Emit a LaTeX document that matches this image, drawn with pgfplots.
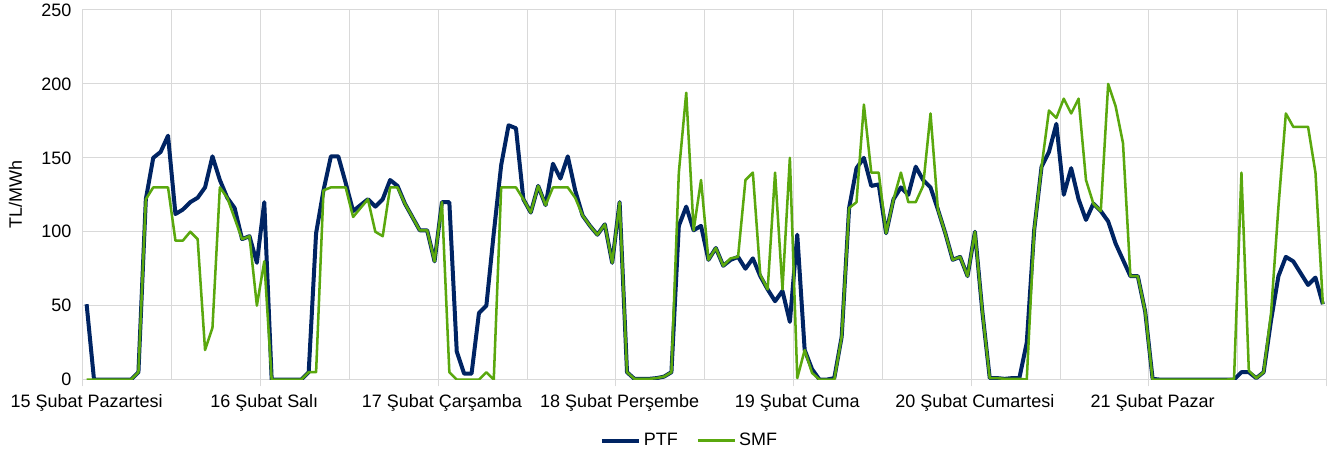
\documentclass[border=0pt]{standalone}
\usepackage{fontspec}
\setmainfont{Liberation Sans}
\usepackage{pgfplots}
\pgfplotsset{compat=1.18}
\usepackage{pgfplotstable}
\definecolor{ptf}{RGB}{0,36,99}
\definecolor{smf}{RGB}{90,168,14}
\definecolor{gridc}{RGB}{217,217,217}

\pgfplotstableread{
h ptf smf
0 51 0
1 0 0
2 0 0
3 0 0
4 0 0
5 0 0
6 0 0
7 5 5
8 122 122
9 150 130
10 154 130
11 165 130
12 112 94
13 115 94
14 120 100
15 123 95
16 130 20
17 151 35
18 135 130
19 123 123
20 116 109
21 95 95
22 97 97
23 79 50
24 120 80
25 0 0
26 0 0
27 0 0
28 0 0
29 0 0
30 5 5
31 99 5
32 128 128
33 151 130
34 151 130
35 133 130
36 114 110
37 118 116
38 122 122
39 117 100
40 122 97
41 135 130
42 131 130
43 119 119
44 110 110
45 101 101
46 101 101
47 80 80
48 120 120
49 120 5
50 19 0
51 4 0
52 4 0
53 45 0
54 50 5
55 99 0
56 145 130
57 172 130
58 170 130
59 122 122
60 113 113
61 131 131
62 118 118
63 146 130
64 136 130
65 151 130
66 128 123
67 111 111
68 104 104
69 98 98
70 105 105
71 79 79
72 120 120
73 5 5
74 0.5 0.5
75 0.5 0.5
76 0.5 0.5
77 1 1
78 2 2
79 5 5
80 104 140
81 117 194
82 101 101
83 104 135
84 81 81
85 89 89
86 77 77
87 81 82
88 83 83
89 75 135
90 82 140
91 70 71
92 61 61
93 53 140
94 60 61
95 39 150
96 98 1
97 20 20
98 7 4.5
99 0 0
100 0 0
101 1 0
102 29 29
103 116 116
104 143 120
105 150 186
106 131 140
107 132 140
108 99 99
109 122 122
110 130 140
111 125 120
112 144 120
113 135 131
114 130 180
115 115 115
116 99 99
117 81 81
118 83 83
119 70 70
120 100 100
121 46 46
122 1 1
123 1 1
124 0.5 0.5
125 1 0.5
126 1 0.5
127 25 0
128 101 101
129 144 144
130 154 182
131 173 177
132 125 190
133 143 180
134 122 190
135 108 135
136 119 119
137 114 114
138 107 200
139 92 185
140 81 160
141 70 70
142 70 70
143 46 46
144 0.5 0
145 0 0
146 0 0
147 0 0
148 0 0
149 0 0
150 0 0
151 0 0
152 0 0
153 0 0
154 0 0
155 0 0.5
156 5 140
157 5 6
158 1 1
159 5 5
160 40 45
161 70 117
162 83 180
163 80 171
164 72 171
165 64 171
166 69 140
167 51 51
}\datatable

\begin{document}
\begin{tikzpicture}
\begin{axis}[
  scale only axis,
  width=933.75pt, height=277.5pt,
  xmin=-0.5, xmax=167.5, ymin=0, ymax=250,
  axis line style={draw=gridc, line width=0.75pt},
  xtick={-0.5,23.5,...,167.5}, xticklabels={},
  minor xtick={11.5,35.5,...,155.5},
  major tick length=5pt, minor tick length=0pt,
  tick align=outside, tick pos=left,
  x tick style={draw=gridc, line width=0.75pt},
  y tick style={draw=none},
  xmajorgrids, xminorgrids, ymajorgrids,
  grid style={draw=gridc, line width=0.75pt},
  minor grid style={draw=gridc, line width=0.75pt},
  ytick={0,50,...,250},
  extra x ticks={0,24,48,72,96,120,144},
  extra x tick labels={15 Şubat Pazartesi,16 Şubat Salı,17 Şubat Çarşamba,18 Şubat Perşembe,19 Şubat Cuma,20 Şubat Cumartesi,21 Şubat Pazar},
  extra x tick style={major tick length=0pt, grid=none},
  /pgf/number format/assume math mode=true,
  every tick label/.append style={font=\fontsize{13.5}{16}\selectfont, text=black},
  xticklabel style={anchor=base, yshift=-21pt},
  yticklabel style={anchor=east, inner sep=0pt, xshift=-3.5pt},
  ylabel={TL/MWh},
  every axis y label/.style={at={(axis description cs:-0.0542,0.5)}, rotate=90, anchor=center, font=\fontsize{13.5}{16}\selectfont},
  legend columns=2,
  legend style={draw=none, at={(rel axis cs:0.488,-0.165)}, anchor=center, font=\fontsize{13.5}{16}\selectfont, /tikz/every even column/.append style={column sep=12pt}},
  legend image code/.code={\draw[#1] (0pt,0pt) -- (28pt,0pt);},
  line join=round,
]
\addplot[ptf, line width=3pt, mark=none] table[x=h, y=ptf] {\datatable};
\addlegendentry{PTF}
\addplot[smf, line width=1.9pt, mark=none] table[x=h, y=smf] {\datatable};
\addlegendentry{SMF}
\end{axis}
\path (current axis.south west) ++(-62.25pt,-55.5pt) rectangle ++(998.25pt,340.5pt);
\end{tikzpicture}
\end{document}
